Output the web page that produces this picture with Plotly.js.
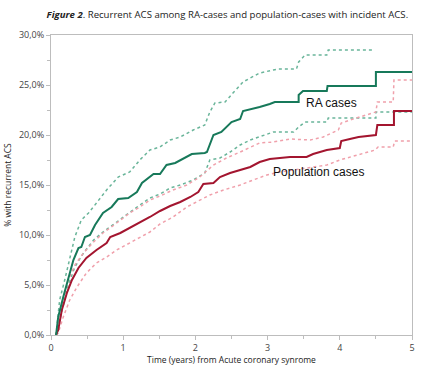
<!DOCTYPE html>
<html><head><meta charset="utf-8">
<script src="https://cdn.plot.ly/plotly-3.0.1.min.js"></script>
<style>html,body{margin:0;padding:0;background:#fff}#c{width:444px;height:376px}</style>
</head><body><div id="c"></div>
<script>
// RA cases (solid) and 95% CI
const raT  = [0.07,0.10,0.17,0.24,0.31,0.38,0.42,0.47,0.54,0.61,0.72,0.84,0.93,1.07,1.19,1.26,1.37,1.42,1.51,1.60,1.72,1.86,1.95,2.13,2.16,2.25,2.36,2.50,2.62,2.66,2.78,2.89,3.03,3.10,3.43,3.43,3.49,3.82,3.83,4.50,4.50,5.0];
const raY  = [0,1.8,3.8,5.8,7.5,8.7,8.8,9.8,10.0,11.0,12.2,12.8,13.6,13.7,14.3,15.2,15.8,16.1,16.1,17.0,17.2,17.8,18.1,18.2,18.3,20.0,20.3,21.3,21.6,22.4,22.6,22.8,23.1,23.3,23.3,24.0,24.4,24.4,24.9,24.9,26.3,26.3];
const raUpT = [0.07,0.12,0.19,0.26,0.33,0.42,0.52,0.63,0.77,0.93,1.09,1.23,1.37,1.51,1.65,1.79,1.97,2.13,2.20,2.27,2.41,2.52,2.66,2.76,2.89,3.08,3.15,3.40,3.43,3.52,3.82,3.84,4.46];
const raUpY = [0,3.5,5.5,7.8,9.8,11.5,12.2,13.2,14.5,15.8,16.3,17.5,18.5,18.8,19.5,19.8,20.5,21.0,22.3,23.2,23.3,24.2,25.3,25.7,26.2,26.5,26.6,26.6,27.3,28.0,28.0,28.5,28.5];
const raLoT = [0.07,0.17,0.24,0.33,0.45,0.59,0.72,0.91,1.09,1.23,1.37,1.51,1.65,1.79,1.97,2.13,2.20,2.34,2.48,2.62,2.76,2.89,3.08,3.36,3.43,3.52,3.82,3.84,4.50,4.50,5.0];
const raLoY = [0,2.8,5.0,6.8,8.2,9.5,10.3,11.3,12.3,13.0,13.7,14.1,14.7,15.0,15.5,16.2,17.5,17.7,18.3,19.0,19.5,19.8,20.3,20.3,20.8,21.3,21.3,21.7,21.7,22.3,22.3];
// Population cases (solid) and 95% CI
const popT  = [0.07,0.10,0.15,0.22,0.29,0.38,0.49,0.63,0.77,0.82,0.96,1.09,1.23,1.37,1.51,1.65,1.79,1.93,2.04,2.11,2.25,2.34,2.48,2.62,2.76,2.89,3.03,3.31,3.54,3.63,3.82,4.00,4.02,4.14,4.26,4.50,4.52,4.75,4.75,5.0];
const popY  = [0,0.5,2.5,4.2,5.5,6.7,7.7,8.5,9.2,9.8,10.2,10.7,11.3,11.8,12.4,12.9,13.3,13.8,14.3,15.1,15.2,15.8,16.2,16.5,16.8,17.3,17.6,17.8,17.8,18.1,18.5,18.7,19.4,19.6,19.8,20.0,21.0,21.0,22.4,22.4];
const popUpT = [0.07,0.10,0.17,0.24,0.33,0.45,0.59,0.72,0.91,1.09,1.23,1.37,1.51,1.69,1.88,2.06,2.25,2.43,2.62,2.76,2.89,3.08,3.31,3.59,3.77,3.98,4.02,4.23,4.50,4.52,4.74,4.75,5.0];
const popUpY = [0,0.8,3.5,5.5,7.0,8.2,9.3,10.2,11.2,12.2,12.8,13.5,13.9,14.5,15.0,15.8,17.0,17.7,18.3,18.8,19.2,19.3,19.6,19.5,19.8,20.5,21.2,21.7,22.3,23.3,23.3,25.5,25.5];
const popLoT = [0.07,0.10,0.17,0.26,0.36,0.49,0.63,0.77,0.91,1.09,1.23,1.37,1.51,1.69,1.88,2.06,2.20,2.39,2.62,2.80,2.99,3.17,3.54,3.82,4.00,4.23,4.49,4.53,4.74,4.76,5.0];
const popLoY = [0,0.2,1.8,3.5,4.8,6.2,7.2,7.8,8.5,9.2,9.8,10.3,11.1,11.8,12.8,13.5,14.0,14.5,15.0,15.5,16.0,16.3,16.7,17.0,17.5,18.0,18.5,18.8,18.8,19.4,19.4];

const yTicks = [0,5,10,15,20,25,30];
const yTickText = ['0,0%','5,0%','10,0%','15,0%','20,0%','25,0%','30,0%'];
const xTicks = [0,1,2,3,4,5];

const green='#17795a', greenCI='#6ab59a', red='#a3152f', redCI='#f0a0ab';
const mk=(x,y,c,w,d)=>({x:x,y:y,type:'scatter',mode:'lines',line:{color:c,width:w,dash:d,shape:'linear'},hoverinfo:'skip',showlegend:false});
const data=[
  mk(raUpT,raUpY,greenCI,1.5,'dot'),
  mk(raLoT,raLoY,greenCI,1.5,'dot'),
  mk(popUpT,popUpY,redCI,1.5,'dot'),
  mk(popLoT,popLoY,redCI,1.5,'dot'),
  mk(popT,popY,red,2,'solid'),
  mk(raT,raY,green,2,'solid')
];
const axFont={family:'Open Sans, sans-serif',size:9,color:'#444'};
const layout={
  width:444,height:376,
  margin:{l:51,r:32,t:35,b:41},
  paper_bgcolor:'#fff',plot_bgcolor:'#fff',
  title:{text:'<b><i>Figure 2</i></b>. Recurrent ACS among RA-cases and population-cases with incident ACS.',
    font:{family:'Open Sans, sans-serif',size:9.6,color:'#222'},x:0.105,xanchor:'left',y:0.962,yanchor:'middle'},
  xaxis:{range:[0,5],tickvals:xTicks,ticktext:xTicks.map(String),showgrid:false,zeroline:false,
    showline:true,linecolor:'#bdbdbd',linewidth:1,mirror:true,ticks:'outside',ticklen:4,tickcolor:'#bdbdbd',
    minor:{dtick:0.5,ticks:'outside',ticklen:3,tickcolor:'#bdbdbd'},
    tickfont:axFont,title:{text:'Time (years) from Acute coronary synrome',font:{family:'Open Sans, sans-serif',size:8.5,color:'#222'},standoff:4}},
  yaxis:{range:[0,30],tickvals:yTicks,ticktext:yTickText,showgrid:false,zeroline:false,
    showline:true,linecolor:'#bdbdbd',linewidth:1,mirror:true,ticks:'outside',ticklen:4,tickcolor:'#bdbdbd',
    minor:{dtick:2.5,ticks:'outside',ticklen:3,tickcolor:'#bdbdbd'},
    tickfont:axFont,title:{text:'% with recurrent ACS',font:{family:'Open Sans, sans-serif',size:8.5,color:'#222'},standoff:6}},
  annotations:[
    {x:3.89,y:23.2,text:'RA cases',showarrow:false,font:{family:'Liberation Sans, Arial, sans-serif',size:12,color:'#111'}},
    {x:3.71,y:16.3,text:'Population cases',showarrow:false,font:{family:'Liberation Sans, Arial, sans-serif',size:12,color:'#111'}}
  ]
};
Plotly.newPlot('c',data,layout,{displayModeBar:false,staticPlot:true});
</script></body></html>
